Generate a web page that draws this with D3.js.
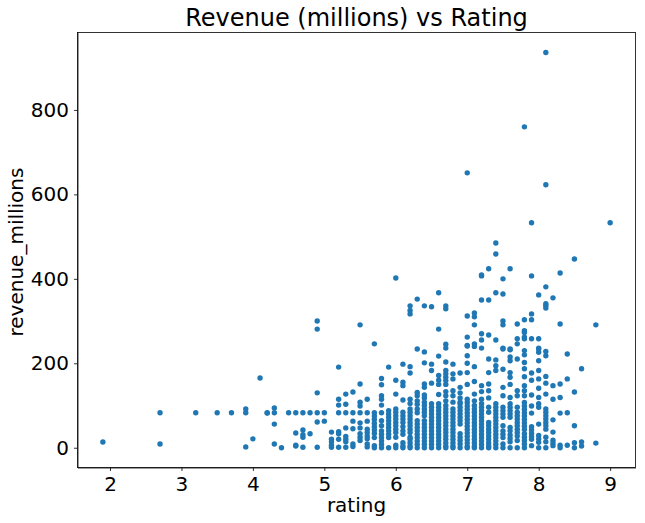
<!DOCTYPE html>
<html>
<head>
<meta charset="utf-8">
<script src="https://cdn.jsdelivr.net/npm/d3@7"></script>
<style>
  html, body { margin: 0; padding: 0; background: #fff; }
  text { font-family: "DejaVu Sans", sans-serif; fill: #000; }
  .tick line, .domain { stroke: #000; stroke-width: 0.8px; }
</style>
</head>
<body>
<svg id="chart" width="645" height="523"></svg>
<script>
const chartTitle = 'Revenue (millions) vs Rating';
const xLabel = 'rating';
const yLabel = 'revenue_millions';
const xTicks = [2, 3, 4, 5, 6, 7, 8, 9];
const yTicks = [0, 200, 400, 600, 800];

const ratings = [1.9, 2.7, 3.2, 3.5, 3.7, 3.9, 4.0, 4.1, 4.2, 4.3, 4.4, 4.5, 4.6, 4.7, 4.8, 4.9, 5.0,
  5.1, 5.2, 5.3, 5.4, 5.5, 5.6, 5.7, 5.8, 5.9, 6.0, 6.1, 6.2, 6.3, 6.4, 6.5, 6.6, 6.7, 6.8, 6.9,
  7.0, 7.1, 7.2, 7.3, 7.4, 7.5, 7.6, 7.7, 7.8, 7.9, 8.0, 8.1, 8.2, 8.3, 8.4, 8.5, 8.6, 8.8, 9.0];

// revenue values, one list per rating
const revenues = [
  [13.5],
  [83, 9],
  [83],
  [83],
  [83],
  [92, 83, 2],
  [21],
  [165],
  [83, 82],
  [94, 83, 56, 9],
  [0],
  [83],
  [83, 35, 6, 4],
  [83, 42, 31, 25, 1],
  [83, 33],
  [300, 281, 130, 83, 61, 1],
  [83, 63],
  [37, 20, 14, 6, 1],
  [191, 115, 101, 83, 38, 33, 20, 1],
  [127, 103, 83, 47, 27, 20, 14, 1],
  [132, 83, 63, 45, 9, 3],
  [291, 151, 108, 99, 83, 59, 47, 33, 25, 17],
  [115, 83, 63, 44, 36, 28, 21, 9, 2],
  [246, 83, 75, 67, 58, 50, 42, 34, 24, 5, 0],
  [164, 149, 123, 115, 101, 83, 64, 52, 40, 32, 24, 16, 8, 0],
  [191, 88, 80, 72, 64, 56, 48, 40, 32, 24, 0],
  [402, 160, 127, 92, 84, 76, 68, 60, 52, 44, 36, 25, 6, 0],
  [198, 155, 147, 113, 84, 76, 68, 60, 50, 40, 32, 12, 4, 0],
  [336, 325, 317, 192, 177, 115, 105, 92, 84, 76, 68, 60, 52, 44, 36, 25, 20, 12, 4, 0],
  [352, 234, 131, 123, 111, 103, 92, 83, 64, 56, 48, 40, 32, 24, 16, 8, 0],
  [336, 227, 201, 151, 143, 125, 118, 108, 100, 92, 84, 76, 64, 56, 48, 40, 32, 24, 16, 8, 0],
  [334, 198, 183, 153, 104, 96, 88, 80, 72, 64, 56, 48, 40, 32, 24, 16, 8, 0],
  [367, 281, 217, 171, 160, 150, 126, 104, 96, 88, 80, 72, 64, 56, 48, 40, 32, 24, 16, 8, 0],
  [336, 329, 245, 236, 203, 183, 175, 167, 159, 150, 133, 123, 111, 100, 92, 84, 76, 68, 60, 52, 44, 36, 28, 20, 12, 4, 0],
  [198, 175, 163, 135, 123, 108, 92, 84, 76, 68, 60, 52, 44, 36, 28, 20, 12, 4, 0],
  [177, 143, 130, 118, 108, 104, 96, 88, 80, 72, 64, 56, 33, 25, 17, 9, 0],
  [651, 312, 262, 242, 241, 218, 200, 178, 150, 115, 107, 99, 91, 83, 75, 67, 59, 51, 43, 35, 27, 19, 11, 3, 0],
  [319, 310, 291, 246, 240, 192, 157, 127, 111, 100, 92, 84, 76, 68, 60, 52, 44, 36, 28, 20, 12, 4, 0],
  [409, 407, 350, 270, 255, 236, 147, 133, 115, 104, 96, 88, 80, 72, 64, 56, 48, 40, 32, 24, 16, 8, 0],
  [424, 350, 267, 210, 178, 151, 135, 118, 96, 84, 60, 52, 44, 36, 28, 20, 12, 4, 0],
  [485, 459, 367, 255, 208, 194, 183, 104, 96, 88, 80, 72, 64, 56, 48, 40, 32, 24, 16, 8, 0],
  [400, 364, 300, 291, 236, 234, 186, 143, 123, 96, 88, 80, 72, 52, 40, 32, 24, 9, 0],
  [424, 234, 232, 215, 206, 178, 167, 150, 119, 104, 96, 88, 80, 72, 48, 40, 30, 22, 14, 0],
  [293, 258, 246, 210, 135, 123, 96, 84, 76, 68, 60, 52, 44, 36, 28, 17, 0],
  [760, 303, 277, 273, 262, 258, 230, 220, 202, 187, 168, 147, 135, 123, 107, 99, 91, 83, 75, 67, 59, 51, 43, 33, 25, 17, 9, 0],
  [533, 407, 317, 303, 258, 177, 160, 125, 99, 82, 50, 42, 34, 26, 20, 5],
  [362, 258, 236, 234, 226, 206, 183, 163, 141, 119, 104, 96, 56, 29, 21, 13, 0],
  [936, 623, 381, 341, 337, 331, 228, 218, 169, 153, 127, 92, 84, 76, 68, 60, 52, 44, 25, 14, 0],
  [355, 147, 115, 66, 37, 18, 11, 5],
  [414, 293, 151, 119, 82, 6, 0],
  [222, 163, 83, 6],
  [447, 132, 52, 12, 0],
  [187, 14, 4],
  [291, 11],
  [533]
];

const points = ratings.flatMap((r, i) => revenues[i].map(v => ({ rating: r, revenue: v })));

const width = 645;
const height = 523;
const margin = { top: 32.5, right: 9.5, bottom: 55.5, left: 77.5 };

const svg = d3.select('#chart');

const x = d3.scaleLinear()
  .domain([1.545, 9.355])
  .range([margin.left, width - margin.right]);

const y = d3.scaleLinear()
  .domain([-46.8, 983.4])
  .range([height - margin.bottom, margin.top]);

// Dots
svg.append('g')
  .selectAll('circle')
  .data(points)
  .join('circle')
  .attr('cx', d => x(d.rating))
  .attr('cy', d => y(d.revenue))
  .attr('r', 2.7)
  .attr('fill', '#1f77b4');

// Axes
const xAxis = svg.append('g')
  .attr('transform', `translate(0, ${height - margin.bottom})`)
  .call(d3.axisBottom(x).tickValues(xTicks).tickFormat(d3.format('d')).tickSize(3.5).tickSizeOuter(0).tickPadding(6));

const yAxis = svg.append('g')
  .attr('transform', `translate(${margin.left}, 0)`)
  .call(d3.axisLeft(y).tickValues(yTicks).tickFormat(d3.format('d')).tickSize(3.5).tickSizeOuter(0).tickPadding(5));

xAxis.selectAll('text').style('font-size', '20px');
yAxis.selectAll('text').style('font-size', '20px');

// Frame
svg.append('rect')
  .attr('x', margin.left)
  .attr('y', margin.top)
  .attr('width', width - margin.left - margin.right)
  .attr('height', height - margin.top - margin.bottom)
  .attr('fill', 'none')
  .attr('stroke', '#000')
  .attr('stroke-width', 0.8);

// Titles
svg.append('text')
  .attr('x', (margin.left + width - margin.right) / 2)
  .attr('y', 26)
  .attr('text-anchor', 'middle')
  .style('font-size', '24px')
  .text(chartTitle);

svg.append('text')
  .attr('x', (margin.left + width - margin.right) / 2)
  .attr('y', 512)
  .attr('text-anchor', 'middle')
  .style('font-size', '20px')
  .text(xLabel);

svg.append('text')
  .attr('transform', `translate(23, ${(margin.top + height - margin.bottom) / 2 + 2}) rotate(-90)`)
  .attr('text-anchor', 'middle')
  .style('font-size', '20px')
  .text(yLabel);
</script>
</body>
</html>
